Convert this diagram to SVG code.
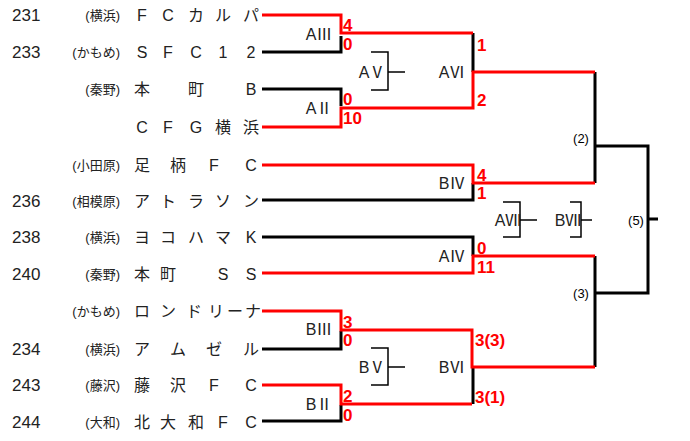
<svg xmlns="http://www.w3.org/2000/svg" width="690" height="441" viewBox="0 0 690 441">
<style>
text{font-family:"Liberation Sans","Noto Sans CJK JP",sans-serif}
.n{font-size:17px;fill:#222}
.p{font-size:13px;fill:#222;text-anchor:end}
.t{font-size:16px;fill:#222;text-anchor:middle}
.l{font-size:16px;fill:#222;text-anchor:middle}
.s{font-size:17px;fill:#f00;font-weight:bold}
.m{font-size:13px;fill:#000;text-anchor:middle}
.k{stroke:#000;stroke-width:3;fill:none}
.r{stroke:#f00;stroke-width:3;fill:none}
.b{stroke:#000;stroke-width:1.5;fill:none}
</style>
<g id="teams">
<text class="n" x="12" y="21">231</text><text class="p" x="120" y="20">(横浜)</text>
<text class="t" y="21"><tspan x="142">F</tspan><tspan x="168">C</tspan><tspan x="196">カ</tspan><tspan x="223">ル</tspan><tspan x="251">パ</tspan></text>
<text class="n" x="12" y="58">233</text><text class="p" x="120" y="57">(かもめ)</text>
<text class="t" y="58"><tspan x="142">S</tspan><tspan x="168">F</tspan><tspan x="196">C</tspan><tspan x="223">1</tspan><tspan x="251">2</tspan></text>
<text class="p" x="120" y="94">(秦野)</text>
<text class="t" y="95"><tspan x="142">本</tspan><tspan x="196">町</tspan><tspan x="251">B</tspan></text>
<text class="t" y="133"><tspan x="142">C</tspan><tspan x="168">F</tspan><tspan x="196">G</tspan><tspan x="223">横</tspan><tspan x="251">浜</tspan></text>
<text class="p" x="120" y="170">(小田原)</text>
<text class="t" y="171"><tspan x="142">足</tspan><tspan x="178">柄</tspan><tspan x="214">F</tspan><tspan x="251">C</tspan></text>
<text class="n" x="12" y="207">236</text><text class="p" x="120" y="206">(相模原)</text>
<text class="t" y="207"><tspan x="142">ア</tspan><tspan x="168">ト</tspan><tspan x="196">ラ</tspan><tspan x="223">ソ</tspan><tspan x="251">ン</tspan></text>
<text class="n" x="12" y="243">238</text><text class="p" x="120" y="242">(横浜)</text>
<text class="t" y="243"><tspan x="142">ヨ</tspan><tspan x="168">コ</tspan><tspan x="196">ハ</tspan><tspan x="223">マ</tspan><tspan x="251">K</tspan></text>
<text class="n" x="12" y="280">240</text><text class="p" x="120" y="279">(秦野)</text>
<text class="t" y="280"><tspan x="142">本</tspan><tspan x="168">町</tspan><tspan x="223">S</tspan><tspan x="251">S</tspan></text>
<text class="p" x="120" y="316">(かもめ)</text>
<text class="t" y="317"><tspan x="142">ロ</tspan><tspan x="168">ン</tspan><tspan x="194">ド</tspan><tspan x="216">リ</tspan><tspan x="235">ー</tspan><tspan x="253">ナ</tspan></text>
<text class="n" x="12" y="355">234</text><text class="p" x="120" y="354">(横浜)</text>
<text class="t" y="355"><tspan x="142">ア</tspan><tspan x="178">ム</tspan><tspan x="214">ゼ</tspan><tspan x="251">ル</tspan></text>
<text class="n" x="12" y="391">243</text><text class="p" x="120" y="390">(藤沢)</text>
<text class="t" y="391"><tspan x="142">藤</tspan><tspan x="178">沢</tspan><tspan x="214">F</tspan><tspan x="251">C</tspan></text>
<text class="n" x="12" y="428">244</text><text class="p" x="120" y="427">(大和)</text>
<text class="t" y="428"><tspan x="142">北</tspan><tspan x="168">大</tspan><tspan x="196">和</tspan><tspan x="223">F</tspan><tspan x="251">C</tspan></text>
</g>
<g id="connectors">
<path class="k" d="M262,52H341V36M262,89H341V106M262,200H473V183M262,237H473V256M262,349H341V331M262,421H341V405M473,33V72M473,367V404M595,72V183M595,256V367M595,146H648V293H595M648,219H658"/>
<path class="r" d="M262,15H341V33H473M262,127H341V108H473V72H595M262,165H473V183H595M262,273H473V256H595M262,311H341V330H472V367H595M262,385H341V404H472"/>
<path class="b" d="M371,52H388V90H371M388,72H405M371,348H388V385H371M388,367H405M503,202H520V237H503M520,220H537M570,202H581V237H570M581,220H592"/>
</g>
<g id="labels">
<text class="l" x="319" y="40">AⅢ</text><text class="l" x="319" y="114">AⅡ</text>
<text class="l" x="372" y="78">AⅤ</text><text class="l" x="452" y="78">AⅥ</text>
<text class="l" x="452" y="189">BⅣ</text><text class="l" x="452" y="262">AⅣ</text>
<text class="l" x="508" y="226">AⅦ</text><text class="l" x="568" y="226">BⅦ</text>
<text class="l" x="319" y="335">BⅢ</text><text class="l" x="319" y="410">BⅡ</text>
<text class="l" x="372" y="373">BⅤ</text><text class="l" x="452" y="373">BⅥ</text>
<text class="m" x="581" y="143">(2)</text><text class="m" x="636" y="225">(5)</text><text class="m" x="581" y="298">(3)</text>
</g>
<g id="scores">
<text class="s" x="343" y="31">4</text><text class="s" x="343" y="50">0</text>
<text class="s" x="343" y="105">0</text><text class="s" x="343" y="124">10</text>
<text class="s" x="477" y="51">1</text><text class="s" x="477" y="106">2</text>
<text class="s" x="477" y="181">4</text><text class="s" x="477" y="199">1</text>
<text class="s" x="477" y="254">0</text><text class="s" x="477" y="273">11</text>
<text class="s" x="343" y="328">3</text><text class="s" x="343" y="346">0</text>
<text class="s" x="475" y="346">3(3)</text><text class="s" x="475" y="403">3(1)</text>
<text class="s" x="343" y="402">2</text><text class="s" x="343" y="421">0</text>
</g>
</svg>
